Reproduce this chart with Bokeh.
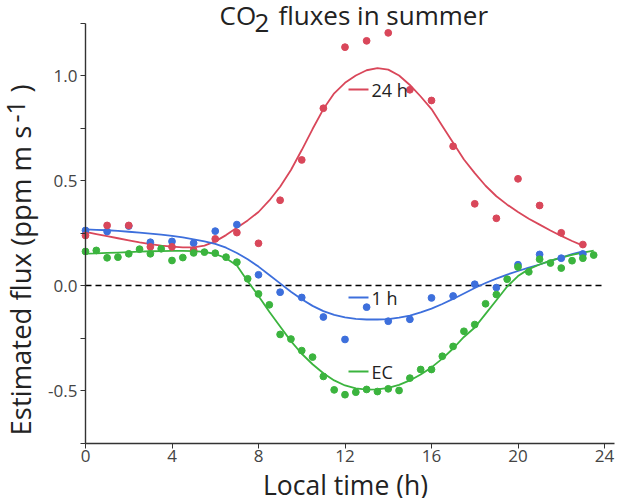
import math
from bokeh.plotting import figure
from bokeh.models import Label, FixedTicker, PrintfTickFormatter
from bokeh.embed import file_html
from bokeh.resources import INLINE

# ---------------- data ----------------
hours = list(range(24))
half_hours = [i * 0.5 for i in range(48)]          # 0 .. 23.5
fit_hours = [i * 0.5 for i in range(47)]           # 0 .. 23

flux_24h = [0.238, 0.286, 0.286, 0.184, 0.184, 0.168, 0.222, 0.252, 0.201, 0.406,
            0.598, 0.844, 1.135, 1.165, 1.203, 0.932, 0.881, 0.663, 0.389, 0.320,
            0.508, 0.381, 0.251, 0.195]
flux_1h = [0.262, 0.257, 0.283, 0.206, 0.210, 0.202, 0.259, 0.290, 0.051, -0.032,
           -0.057, -0.150, -0.257, -0.103, -0.170, -0.161, -0.059, -0.050, 0.006, -0.010,
           0.099, 0.148, 0.130, 0.150]
flux_ec = [0.162, 0.167, 0.132, 0.135, 0.151, 0.173, 0.151, 0.175, 0.119, 0.133,
           0.155, 0.159, 0.154, 0.135, 0.111, 0.032, -0.040, -0.092, -0.233, -0.255,
           -0.310, -0.341, -0.433, -0.497, -0.520, -0.508, -0.495, -0.505, -0.492, -0.500,
           -0.441, -0.400, -0.400, -0.337, -0.290, -0.218, -0.186, -0.087, -0.043, 0.030,
           0.088, 0.065, 0.125, 0.107, 0.083, 0.118, 0.130, 0.145]

fit_24h = [0.255, 0.245, 0.235, 0.225, 0.215, 0.205, 0.197, 0.190, 0.185, 0.182,
           0.182, 0.190, 0.210, 0.240, 0.275, 0.310, 0.350, 0.405, 0.470, 0.550,
           0.645, 0.745, 0.840, 0.915, 0.965, 1.000, 1.025, 1.035, 1.028, 1.000,
           0.955, 0.900, 0.840, 0.760, 0.680, 0.600, 0.535, 0.475, 0.425, 0.385,
           0.350, 0.318, 0.290, 0.262, 0.236, 0.212, 0.190]
fit_1h = [0.267, 0.265, 0.263, 0.260, 0.256, 0.252, 0.247, 0.242, 0.236, 0.229,
          0.220, 0.210, 0.198, 0.180, 0.155, 0.125, 0.090, 0.050, 0.010, -0.030,
          -0.065, -0.097, -0.122, -0.140, -0.152, -0.159, -0.162, -0.162, -0.160, -0.153,
          -0.143, -0.128, -0.110, -0.088, -0.064, -0.038, -0.012, 0.012, 0.033, 0.052,
          0.069, 0.085, 0.100, 0.117, 0.133, 0.149, 0.163]
fit_ec = [0.152, 0.153, 0.155, 0.157, 0.159, 0.161, 0.163, 0.164, 0.165, 0.165,
          0.164, 0.160, 0.150, 0.130, 0.095, 0.020, -0.050, -0.125, -0.195, -0.265,
          -0.325, -0.375, -0.418, -0.452, -0.476, -0.490, -0.496, -0.495, -0.488, -0.473,
          -0.452, -0.424, -0.390, -0.348, -0.300, -0.245, -0.200, -0.135, -0.070, -0.005,
          0.045, 0.078, 0.100, 0.118, 0.133, 0.146, 0.157, 0.166]

x_ticks = [0, 4, 8, 12, 16, 20, 24]
y_ticks = [-0.5, 0.0, 0.5, 1.0]
y_minor = [-0.75, -0.25, 0.25, 0.75, 1.25]
x_axis_end = 24.45

title_main = "CO"
title_sub = "2"
title_rest = "fluxes in summer"
x_label = "Local time (h)"
y_label_main = "Estimated flux (ppm m s"
y_label_sup = "-1"
y_label_close = ")"
series_names = ["24 h", "1 h", "EC"]

RED = "#d9475a"
BLUE = "#3d6fdc"
GREEN = "#3bb43e"
FONT = "Open Sans"
TXT = "#222222"

# pixel geometry of the reference: x=0 at px 85, 21.625 px per hour;
# y=0 at px 285, 210 px per unit
X0, XS, Y0, YS = 85.0, 21.625, 285.0, 210.0
W, H = 619, 498

# ---------------- figure ----------------
# the frame fills the whole canvas; axes sit at fixed data locations,
# so that titles drawn as labels are never clipped
p = figure(width=W, height=H,
           x_range=(-X0 / XS, (W - X0) / XS),
           y_range=((Y0 - H) / YS, Y0 / YS),
           output_backend="svg", toolbar_location=None,
           min_border_left=0, min_border_right=0, min_border_top=0, min_border_bottom=0)
p.grid.visible = False
p.outline_line_color = None
p.background_fill_color = "white"
p.border_fill_color = "white"

for ax in (p.xaxis[0], p.yaxis[0]):
    ax.axis_line_color = "#333333"
    ax.axis_line_width = 1.4
    ax.major_tick_line_color = "#333333"
    ax.minor_tick_line_color = "#333333"
    ax.major_tick_in = 0
    ax.major_tick_out = 5
    ax.minor_tick_in = 0
    ax.minor_tick_out = 5
    ax.major_label_text_font = FONT
    ax.major_label_text_font_size = "17px"
    ax.major_label_text_color = "#444444"

p.xaxis.ticker = FixedTicker(ticks=x_ticks)
p.xaxis.major_label_standoff = 2
p.xaxis.fixed_location = y_minor[0]
p.xaxis.bounds = (x_ticks[0], x_axis_end)

p.yaxis.ticker = FixedTicker(ticks=y_ticks, minor_ticks=y_minor)
p.yaxis.formatter = PrintfTickFormatter(format="%.1f")
p.yaxis.major_label_standoff = 3
p.yaxis.fixed_location = x_ticks[0]
p.yaxis.bounds = (y_minor[0], y_minor[-1])

# zero reference line
p.line([x_ticks[0], x_ticks[-1]], [0, 0], line_color="black", line_width=1.4, line_dash="6 4")

# fits
p.line(fit_hours, fit_24h, line_color=RED, line_width=1.8)
p.line(fit_hours, fit_1h, line_color=BLUE, line_width=1.8)
p.line(half_hours, fit_ec, line_color=GREEN, line_width=1.8)

# points
p.scatter(hours, flux_1h, size=6.8, color=BLUE)
p.scatter(hours, flux_24h, size=6.8, color=RED)
p.scatter(half_hours, flux_ec, size=6.8, color=GREEN)

# ---------------- text placement (pixel positions -> data) ----------------
def dx(px):
    return (px - X0) / XS

def dy(py):
    return (Y0 - py) / YS

def lab(text, px, py, size, align="left", angle=0.0, color=TXT):
    p.add_layout(Label(x=dx(px), y=dy(py), text=text, text_font=FONT,
                       text_font_size=size, text_align=align, text_baseline="middle",
                       angle=angle, text_color=color))

# title (with lowered "2")
lab(title_main, 219, 14, "26px")
lab(title_sub, 254, 22, "26px")
lab(title_rest, 278, 14, "26px")

# x axis title
lab(x_label, 345, 484, "26.5px", align="center")

# y axis title (rotated) with raised "-1"
lab(y_label_main, 19.5, 435, "27.5px", angle=math.pi / 2)
lab(y_label_sup, 15.5, 122, "25px", angle=math.pi / 2)
lab(y_label_close, 19.5, 92, "27.5px", angle=math.pi / 2)

# inline legend
for name, col, py in zip(series_names, (RED, BLUE, GREEN), (89, 297, 371)):
    p.line([dx(348), dx(368)], [dy(py), dy(py)], line_color=col, line_width=2)
    lab(name, 371, py, "18px")

open("out.html", "w").write(file_html(p, INLINE))
